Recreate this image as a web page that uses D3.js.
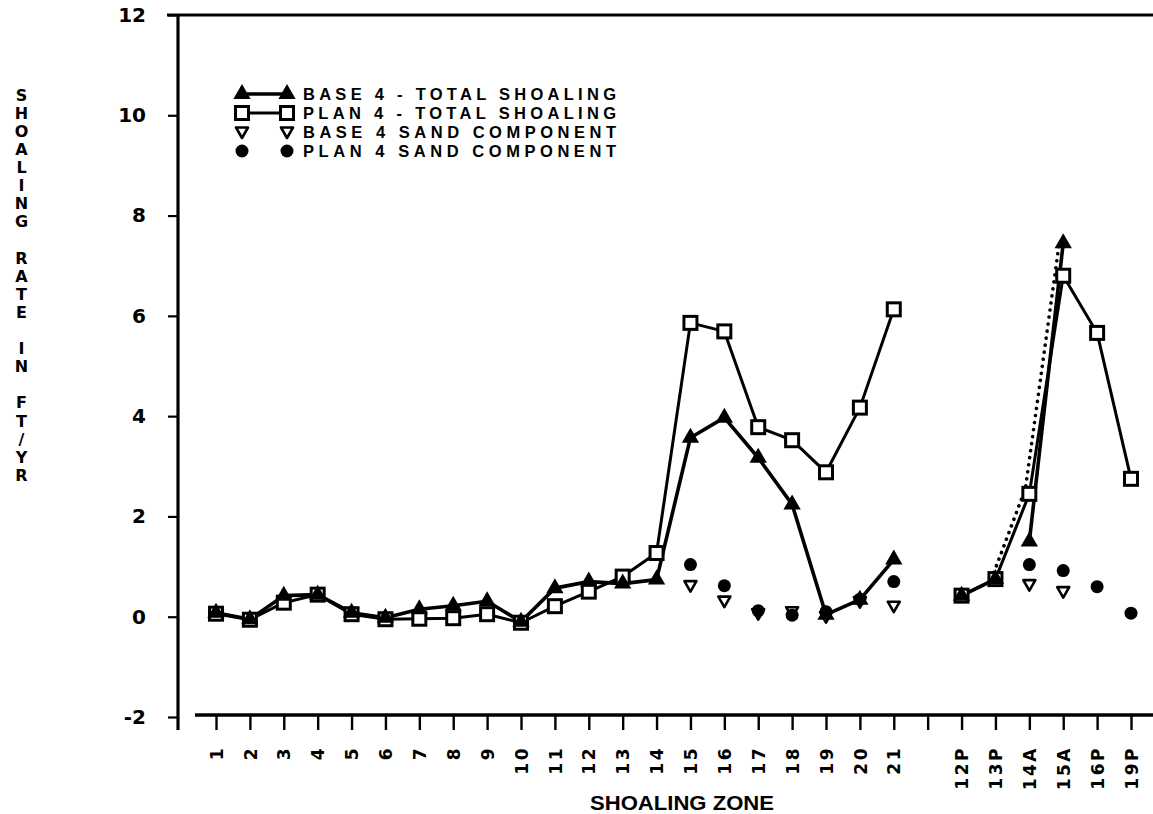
<!DOCTYPE html>
<html>
<head>
<meta charset="utf-8">
<script src="https://cdn.jsdelivr.net/npm/d3@7"></script>
<style>
  html, body { margin: 0; padding: 0; background: #fff; }
  svg { display: block; }
  text { font-family: "Liberation Sans", Arial, sans-serif; font-weight: bold; fill: #000; }
</style>
</head>
<body>
<svg id="chart" width="1153" height="814"></svg>
<script>
// Shoaling zones along the channel; the blank entry is the spacer tick between the two reaches.
const zones = ["1","2","3","4","5","6","7","8","9","10","11","12","13","14","15","16","17","18","19","20","21","",
               "12P","13P","14A","15A","16P","19P"];

// Total shoaling rates, ft/yr (null = not measured)
const base4Total = [0.08,-0.05,0.42,0.44,0.08,-0.02,0.15,0.22,0.31,-0.10,0.57,0.70,0.66,0.74,3.57,3.97,3.17,2.24,0.04,0.34,1.14,null,
                    0.42,0.75,1.50,7.45,null,null];
const plan4Total = [0.06,-0.06,0.28,0.44,0.05,-0.05,-0.04,-0.03,0.05,-0.12,0.21,0.50,0.80,1.27,5.86,5.69,3.78,3.52,2.88,4.17,6.13,null,
                    0.42,0.75,2.45,6.80,5.66,2.75];

// Sand component of shoaling, ft/yr
const base4Sand = [null,null,null,null,null,null,null,null,null,null,null,null,null,null,0.62,0.31,0.06,0.10,0.00,0.30,0.21,null,
                   null,null,0.64,0.50,null,null];
const plan4Sand = [null,null,null,null,null,null,null,null,null,null,null,null,null,null,1.04,0.62,0.12,0.03,0.10,0.35,0.70,null,
                   null,null,1.04,0.92,0.60,0.07];

// Base 4 total line restarts at this zone; the dotted connector bridges 13P to 15A
const base4BreakBefore = "14A";
const base4Link = [["13P",0.75],["14A",2.55],["15A",7.45]];

const yTicks = [-2,0,2,4,6,8,10,12];
const yTitle = "SHOALING RATE IN FT/YR";
const xTitle = "SHOALING ZONE";
const legendItems = [
  {key:"baseTotal", label:"BASE 4 - TOTAL SHOALING"},
  {key:"planTotal", label:"PLAN 4 - TOTAL SHOALING"},
  {key:"baseSand",  label:"BASE 4 SAND COMPONENT"},
  {key:"planSand",  label:"PLAN 4 SAND COMPONENT"}
];

const svg = d3.select("#chart");

const x = d3.scalePoint().domain(zones).range([216, 1131]);
const y = d3.scaleLinear().domain([-2, 12]).range([717, 15]);

// ---- frame: left axis, top rule, bottom axis ----
const axisX = 178, topY = 15, bottomY = 715;
svg.append("line").attr("x1", 167).attr("x2", 1153).attr("y1", topY).attr("y2", topY)
   .attr("stroke", "#000").attr("stroke-width", 3.2);
svg.append("line").attr("x1", axisX).attr("x2", axisX).attr("y1", topY).attr("y2", 730)
   .attr("stroke", "#000").attr("stroke-width", 3.2);

const yAxis = d3.axisLeft(y).tickValues(yTicks).tickSize(10).tickPadding(22).tickFormat(d3.format("d"));
const gy = svg.append("g").attr("transform", `translate(${axisX},0)`).call(yAxis);
gy.select(".domain").remove();
gy.selectAll(".tick line").attr("stroke", "#000").attr("stroke-width", 2.2);
gy.selectAll(".tick text").style("font-family", "'DejaVu Sans', sans-serif")
  .style("font-weight", "bold").style("font-size", "20px").attr("fill", "#000")
  .text(d => d < 0 ? "-" + Math.abs(d) : d);

const xAxis = d3.axisBottom(x).tickSize(15).tickFormat(d => d);
const gx = svg.append("g").attr("transform", `translate(0,${bottomY})`).call(xAxis);
gx.select(".domain").remove();
svg.append("line").attr("x1", 195).attr("x2", 1153).attr("y1", bottomY).attr("y2", bottomY)
   .attr("stroke", "#000").attr("stroke-width", 3.6);
gx.selectAll(".tick line").attr("stroke", "#000").attr("stroke-width", 2.4);
gx.selectAll(".tick text")
  .attr("transform", "translate(0,31) rotate(-90)")
  .attr("x", 0).attr("y", 0).attr("dy", "0.36em")
  .style("text-anchor", "end")
  .style("font-family", "'DejaVu Sans', sans-serif")
  .style("font-weight", "bold").style("font-size", "17px")
  .style("letter-spacing", "2.5px").attr("fill", "#000");

// ---- axis titles ----
const yt = svg.append("g");
yTitle.split("").forEach((ch, i) => {
  if (ch === " ") return;
  yt.append("text").attr("x", 21.5).attr("y", 95 + i * 18.1).attr("dy", "0.36em")
    .attr("text-anchor", "middle").style("font-family", "'DejaVu Sans', sans-serif")
    .style("font-size", "16px").text(ch);
});
svg.append("text").attr("x", 682).attr("y", 810).attr("text-anchor", "middle")
   .style("font-size", "20px").attr("textLength", 184).attr("lengthAdjust", "spacingAndGlyphs")
   .text(xTitle);

// ---- series lines ----
function points(vals) {
  return zones.map((z, i) => ({z, v: vals[i], i})).filter(d => d.v !== null && d.z !== "");
}
function segments(vals, breakAt) {
  const segs = []; let cur = [];
  zones.forEach((z, i) => {
    const v = vals[i];
    if (v === null || z === "" || z === breakAt) { if (cur.length) segs.push(cur); cur = []; }
    if (v !== null && z !== "") cur.push({z, v});
  });
  if (cur.length) segs.push(cur);
  return segs;
}
const line = d3.line().x(d => x(d.z)).y(d => y(d.v));

svg.append("g").selectAll("path").data(segments(plan4Total, null)).join("path")
   .attr("d", line).attr("fill", "none").attr("stroke", "#000").attr("stroke-width", 3)
   .attr("stroke-linejoin", "round");
svg.append("g").selectAll("path").data(segments(base4Total, base4BreakBefore)).join("path")
   .attr("d", line).attr("fill", "none").attr("stroke", "#000").attr("stroke-width", 3.6)
   .attr("stroke-linejoin", "round");
svg.append("path").datum(base4Link.map(([z, v]) => ({z, v})))
   .attr("d", line).attr("fill", "none").attr("stroke", "#000").attr("stroke-width", 3.6)
   .attr("stroke-dasharray", "0.1,7").attr("stroke-linecap", "round")
   .attr("transform", "translate(-4,0)");

// ---- markers ----
const triUp = d3.symbol().type(d3.symbolTriangle).size(130)();
const triDown = "M-6,-4.5L6,-4.5L0,6Z";
function drawMarker(sel, kind) {
  if (kind === "baseTotal") sel.append("path").attr("d", triUp).attr("fill", "#000");
  if (kind === "planTotal") sel.append("rect").attr("x", -6.5).attr("y", -6.5).attr("width", 13).attr("height", 13)
                               .attr("fill", "#fff").attr("stroke", "#000").attr("stroke-width", 3);
  if (kind === "baseSand") sel.append("path").attr("d", triDown).attr("fill", "#fff")
                              .attr("stroke", "#000").attr("stroke-width", 2.6).attr("stroke-linejoin", "round");
  if (kind === "planSand") sel.append("circle").attr("r", 6.5).attr("fill", "#000");
}
function drawSeries(vals, kind) {
  svg.append("g").selectAll("g").data(points(vals)).join("g")
     .attr("transform", d => `translate(${x(d.z)},${y(d.v)})`)
     .each(function() { drawMarker(d3.select(this), kind); });
}
drawSeries(base4Sand, "baseSand");
drawSeries(plan4Total, "planTotal");
drawSeries(base4Total, "baseTotal");
drawSeries(plan4Sand, "planSand");

// ---- legend ----
const lg = svg.append("g");
legendItems.forEach((it, i) => {
  const ly = 94 + i * 19;
  const connected = it.key === "baseTotal" || it.key === "planTotal";
  if (connected) lg.append("line").attr("x1", 242).attr("x2", 287).attr("y1", ly).attr("y2", ly)
                   .attr("stroke", "#000").attr("stroke-width", it.key === "baseTotal" ? 3.6 : 3);
  [242, 287].forEach(mx => {
    const g = lg.append("g").attr("transform", `translate(${mx},${ly})`);
    drawMarker(g, it.key);
  });
  lg.append("text").attr("x", 303).attr("y", ly).attr("dy", "0.36em")
    .style("font-size", "16.5px").attr("textLength", 313).attr("lengthAdjust", "spacing")
    .text(it.label);
});
</script>
</body>
</html>
